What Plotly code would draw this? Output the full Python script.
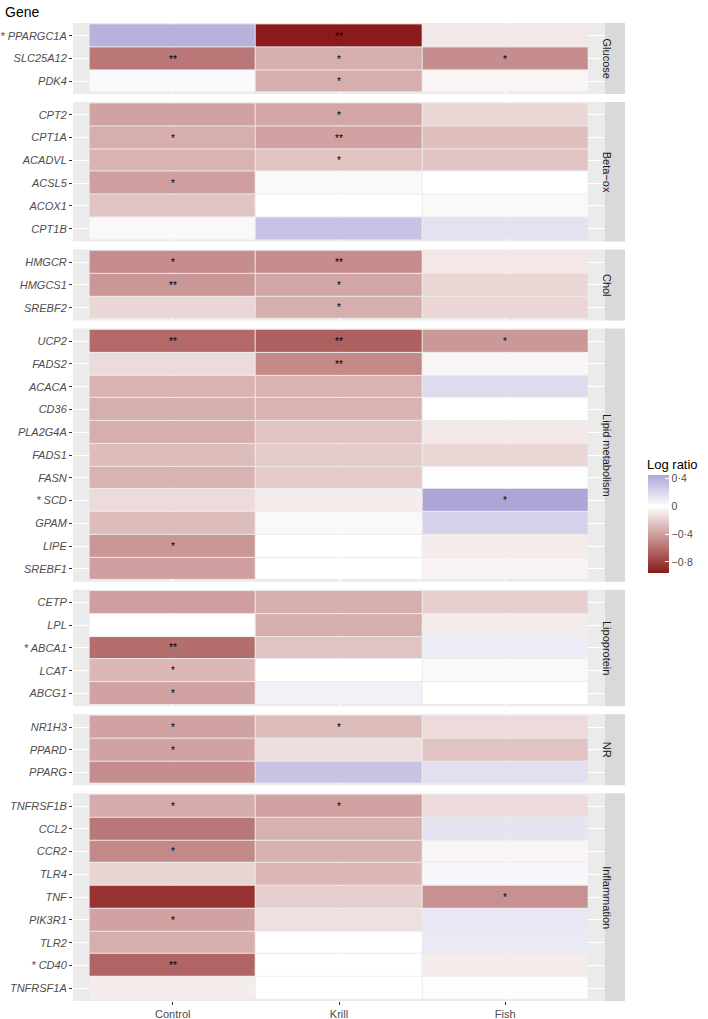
import plotly.graph_objects as go
from plotly.subplots import make_subplots

# ---------------- data ----------------
diets = ["Control", "Krill", "Fish"]

groups = ["Glucose", "Beta−ox", "Chol", "Lipid metabolism", "Lipoprotein", "NR", "Inflammation"]

gene_group = (["Glucose"] * 3 + ["Beta−ox"] * 6 + ["Chol"] * 3 + ["Lipid metabolism"] * 11
              + ["Lipoprotein"] * 5 + ["NR"] * 3 + ["Inflammation"] * 9)

gene_names = ["PPARGC1A", "SLC25A12", "PDK4",
              "CPT2", "CPT1A", "ACADVL", "ACSL5", "ACOX1", "CPT1B",
              "HMGCR", "HMGCS1", "SREBF2",
              "UCP2", "FADS2", "ACACA", "CD36", "PLA2G4A", "FADS1", "FASN", "SCD", "GPAM", "LIPE", "SREBF1",
              "CETP", "LPL", "ABCA1", "LCAT", "ABCG1",
              "NR1H3", "PPARD", "PPARG",
              "TNFRSF1B", "CCL2", "CCR2", "TLR4", "TNF", "PIK3R1", "TLR2", "CD40", "TNFRSF1A"]

gene_flag = ["* ", "", "",
             "", "", "", "", "", "",
             "", "", "",
             "", "", "", "", "", "", "", "* ", "", "", "",
             "", "", "* ", "", "",
             "", "", "",
             "", "", "", "", "", "", "", "* ", ""]

control = [0.39, -0.57, 0.03,
           -0.39, -0.34, -0.32, -0.40, -0.25, -0.03,
           -0.48, -0.44, -0.17,
           -0.63, -0.15, -0.32, -0.34, -0.34, -0.28, -0.32, -0.15, -0.28, -0.44, -0.40,
           -0.40, 0.0, -0.61, -0.30, -0.39,
           -0.39, -0.39, -0.48,
           -0.35, -0.57, -0.50, -0.18, -0.86, -0.39, -0.34, -0.65, -0.08]

krill = [-0.96, -0.34, -0.34,
         -0.37, -0.39, -0.25, -0.03, 0.0, 0.30,
         -0.48, -0.37, -0.34,
         -0.67, -0.49, -0.32, -0.32, -0.25, -0.22, -0.22, -0.08, -0.03, 0.0, 0.0,
         -0.34, -0.34, -0.25, 0.0, 0.07,
         -0.28, -0.14, 0.30,
         -0.39, -0.33, -0.33, -0.30, -0.20, -0.13, 0.0, 0.0, 0.0]

fish = [-0.10, -0.48, -0.04,
        -0.17, -0.27, -0.25, 0.0, -0.03, 0.15,
        -0.10, -0.17, -0.17,
        -0.43, -0.04, 0.18, 0.0, -0.09, -0.17, -0.01, 0.45, 0.23, -0.08, -0.05,
        -0.20, -0.08, 0.09, -0.03, 0.0,
        -0.15, -0.25, 0.16,
        -0.15, 0.14, -0.04, 0.04, -0.46, 0.12, 0.11, -0.08, -0.01]

control_sig = ["", "**", "",
               "", "*", "", "*", "", "",
               "*", "**", "",
               "**", "", "", "", "", "", "", "", "", "*", "",
               "", "", "**", "*", "*",
               "*", "*", "",
               "*", "", "*", "", "", "*", "", "**", ""]

krill_sig = ["**", "*", "*",
             "*", "**", "*", "", "", "",
             "**", "*", "*",
             "**", "**", "", "", "", "", "", "", "", "", "",
             "", "", "", "", "",
             "*", "", "",
             "*", "", "", "", "", "", "", "", ""]

fish_sig = ["", "*", "",
            "", "", "", "", "", "",
            "", "", "",
            "*", "", "", "", "", "", "", "*", "", "", "",
            "", "", "", "", "",
            "", "", "",
            "", "", "", "", "*", "", "", "", ""]

legend_ticks = [0.4, 0.0, -0.4, -0.8]
legend_ticktext = ["0·4", "0", "−0·4", "−0·8"]

# ---------------- layout constants ----------------
W, H = 708, 1019
ML, MR, MT, MB = 73, 103, 23, 18
plot_h = H - MT - MB
plot_w = W - ML - MR
gap_px = 8
ex = 0.06  # y expansion (in rows)

counts = [gene_group.count(g) for g in groups]
row_heights = [c + 2 * ex for c in counts]

fig = make_subplots(rows=len(groups), cols=1, shared_xaxes=True,
                    vertical_spacing=gap_px / plot_h, row_heights=row_heights)

FONT = "Liberation Sans, Arial, Helvetica, sans-serif"
zmin, zmax = -0.96, 0.45
mid = (0 - zmin) / (zmax - zmin)
low = (139, 26, 26)
high_full = (80, 64, 168)
f_hi = 0.45 / 0.96
high_end = tuple(round(255 + (h - 255) * f_hi) for h in high_full)


def rgb(c):
    return "rgb(%d,%d,%d)" % c


def mix(a, b, t):
    return tuple(round(a[i] + (b[i] - a[i]) * t) for i in range(3))


white = (255, 255, 255)
colorscale = []
for k in range(6):
    t = k / 5
    colorscale.append([mid * t, rgb(mix(low, white, t))])
for k in range(1, 4):
    t = k / 3
    colorscale.append([mid + (1 - mid) * t, rgb(mix(white, high_end, t))])

idx = 0
for r, g in enumerate(groups, start=1):
    n = counts[r - 1]
    sl = slice(idx, idx + n)
    labels = [f + name for f, name in zip(gene_flag[sl], gene_names[sl])]
    z = [[c, k, f] for c, k, f in zip(control[sl], krill[sl], fish[sl])]
    txt = [[a, b, c] for a, b, c in zip(control_sig[sl], krill_sig[sl], fish_sig[sl])]
    fig.add_trace(go.Heatmap(
        x=diets, y=labels, z=z, text=txt, texttemplate="%{text}",
        textfont=dict(size=10, color="black", family=FONT),
        coloraxis="coloraxis", xgap=1, ygap=1, hoverinfo="skip"), row=r, col=1)
    fig.update_yaxes(type="category", categoryorder="array", categoryarray=labels,
                     range=[n - 0.5 + ex, -0.5 - ex], row=r, col=1)
    ynum = "" if r == 1 else str(r)
    fig.add_shape(type="rect", xref="paper", yref=f"y{ynum} domain",
                  x0=1.0, x1=1.0 + 20 / plot_w, y0=0, y1=1,
                  fillcolor="#D9D9D9", line=dict(width=0), layer="below")
    fig.add_annotation(xref="paper", yref=f"y{ynum} domain", x=1.0 + 10 / plot_w, y=0.5,
                       text=g, textangle=90, showarrow=False,
                       font=dict(family=FONT, size=11, color="#1A1A1A"))
    idx += n

fig.update_yaxes(showgrid=True, gridcolor="white", gridwidth=1, zeroline=False, showline=False,
                 automargin=False,
                 ticks="outside", ticklen=3, tickcolor="#333333", tickwidth=1,
                 tickfont=dict(family=FONT, size=11, color="#4D4D4D", style="italic"))
fig.update_xaxes(type="category", categoryorder="array", categoryarray=diets,
                 range=[-0.6, 2.6], showgrid=True, gridcolor="white", gridwidth=1,
                 zeroline=False, showline=False, ticks="", automargin=False,
                 tickfont=dict(family=FONT, size=11, color="#4D4D4D"))
fig.update_xaxes(ticks="outside", ticklen=3, tickcolor="#333333", tickwidth=1,
                 row=len(groups), col=1)

fig.add_annotation(xref="paper", yref="paper", x=-(ML - 3) / plot_w, y=1 + (MT - 12) / plot_h,
                   xanchor="left", yanchor="middle", text="Gene", showarrow=False,
                   font=dict(family=FONT, size=14, color="black"))

# legend title
fig.add_annotation(xref="paper", yref="paper", x=(645 - ML) / plot_w, y=1 - (474 - MT) / plot_h,
                   xanchor="left", yanchor="bottom", text="Log ratio", showarrow=False,
                   font=dict(family=FONT, size=13, color="black"))

fig.update_layout(
    width=W, height=H, margin=dict(l=ML, r=MR, t=MT, b=MB, autoexpand=False),
    paper_bgcolor="white", plot_bgcolor="#EBEBEB",
    font=dict(family=FONT),
    showlegend=False,
    coloraxis=dict(
        colorscale=colorscale, cmin=zmin, cmax=zmax,
        colorbar=dict(
            thickness=21, len=98, lenmode="pixels", xpad=0, ypad=0,
            x=(648 - ML) / plot_w, xref="paper", xanchor="left",
            y=1 - (524 - MT) / plot_h, yref="paper", yanchor="middle",
            tickvals=legend_ticks, ticktext=legend_ticktext,
            ticks="inside", tickcolor="white", ticklen=4, outlinewidth=0,
            tickfont=dict(family=FONT, size=10.5, color="#4D4D4D"),
        ),
    ),
)

fig.write_html("out.html", config={"displayModeBar": False},
               post_script="document.body.style.margin='0';document.body.style.overflow='hidden';")
